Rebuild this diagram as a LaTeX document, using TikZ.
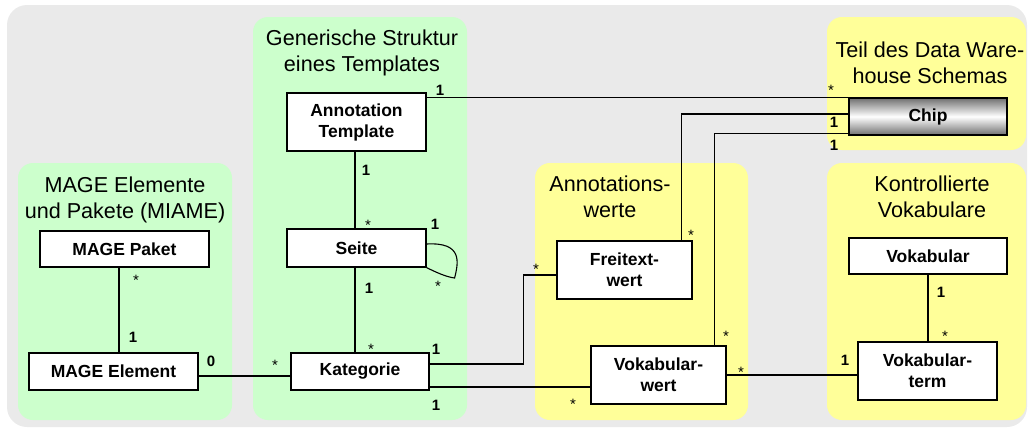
\documentclass[tikz,border=0pt]{standalone}
\usepackage{fontspec}
\setmainfont{Liberation Sans}
\usetikzlibrary{calc}

\definecolor{bggrey}{RGB}{234,234,234}
\definecolor{panelgreen}{RGB}{204,255,204}
\definecolor{panelyellow}{RGB}{255,255,153}
\definecolor{chipgrey}{RGB}{112,112,112}

\begin{document}
\begin{tikzpicture}[x=1pt, y=-1pt,
    panel/.style={rounded corners=15pt},
    ptitle/.style={font=\fontsize{21.6}{25.5}\selectfont, align=center, inner sep=0pt, anchor=north},
    class/.style={draw, fill=white, line width=1.2pt, inner sep=0pt, align=center,
        font=\bfseries\fontsize{17.5}{21}\selectfont},
    assoc/.style={line width=1.1pt},
    mult/.style={font=\bfseries\fontsize{15}{15}\selectfont, inner sep=0pt, anchor=base},
    many/.style={font=\fontsize{15}{15}\selectfont, inner sep=0pt, anchor=base}]
    \useasboundingbox (0, 0) rectangle (1029, 429);
    \fill[bggrey, rounded corners=20pt] (7, 5) rectangle (1027, 427);

    % panels
    \fill[panelgreen, panel] (18, 163) rectangle (232, 420);
    \fill[panelgreen, panel] (253, 17) rectangle (467, 420);
    \fill[panelyellow, panel] (827, 17) rectangle (1026, 150);
    \fill[panelyellow, panel] (535, 163) rectangle (748, 420);
    \fill[panelyellow, panel] (827, 163) rectangle (1026, 420);

    \node[ptitle] (tmage) at (125, 177) {MAGE Elemente\\und Pakete (MIAME)};
    \node[ptitle] (tgen) at (362, 30) {Generische Struktur\\eines Templates};
    \node[ptitle] (tdwh) at (930, 42) {Teil des Data Ware-\\house Schemas};
    \node[ptitle] (tannot) at (610, 176) {Annotations-\\werte};
    \node[ptitle] (tvoc) at (932, 176) {Kontrollierte\\Vokabulare};

    % classes
    \node[class, minimum width=139, minimum height=58] (template) at (356.5, 122) {Annotation\\Template};
    \node[class, minimum width=139, minimum height=38] (seite) at (356.5, 248) {Seite};
    \node[class, minimum width=138, minimum height=37] (kategorie) at (360, 371.5) {Kategorie};
    \node[class, minimum width=169, minimum height=36] (paket) at (124.5, 249) {MAGE Paket};
    \node[class, minimum width=169, minimum height=37] (element) at (113.5, 371.5) {MAGE Element};
    \node[class, minimum width=158, minimum height=37, top color=chipgrey, bottom color=chipgrey,
        middle color=white] (chip) at (928, 116.5) {Chip};
    \node[class, minimum width=135, minimum height=58] (freitext) at (624.5, 270) {Freitext-\\wert};
    \node[class, minimum width=135, minimum height=58] (vokwert) at (658.5, 375) {Vokabular-\\wert};
    \node[class, minimum width=158, minimum height=36] (vokabular) at (928, 256) {Vokabular};
    \node[class, minimum width=139, minimum height=58] (vokterm) at (927.5, 371) {Vokabular-\\term};

    % associations
    \draw[assoc] ([yshift=-5pt]template.north east) -- (chip.north west);
    \draw[assoc] ([xshift=-11pt]freitext.north east) |- ([yshift=2.5pt]chip.west);
    \draw[assoc] ([xshift=-12pt]vokwert.north east) |- ([yshift=2pt]chip.south west);
    \draw[assoc] ([xshift=-1.5pt]template.south) -- ([xshift=-1.5pt]seite.north);
    \draw[assoc] ([yshift=4pt]seite.east) .. controls +(36,-2) and +(4,-16) .. ++(28,34)
        .. controls +(-8,-1) and +(10,5) .. (seite.south east);
    \draw[assoc] ([xshift=-1.5pt]seite.south) -- ([xshift=-1.5pt]seite.south |- kategorie.north);
    \draw[assoc] ([xshift=-5.5pt]paket.south) -- ([xshift=-5.5pt]paket.south |- element.north);
    \draw[assoc] ([yshift=-4.5pt]element.east) -- ([yshift=-4.5pt]kategorie.west);
    \draw[assoc] ([yshift=7.5pt]kategorie.east) -- ++(94, 0) |- ([yshift=-5pt]freitext.west);
    \draw[assoc] ([yshift=-15.5pt]kategorie.east) coordinate (kv) -- (kv -| vokwert.west);
    \draw[assoc] (vokwert.east) -- (vokwert.east -| vokterm.west);
    \draw[assoc] (vokabular.south) -- (vokabular.south |- vokterm.north);

    % multiplicities
    \node[mult] (m1) at (440, 95.5) {1};
    \node[many] (m2) at (831, 95.5) {*};
    \node[many] (m3) at (691, 240.5) {*};
    \node[mult] (m4) at (834, 127.5) {1};
    \node[many] (m5) at (726, 341.5) {*};
    \node[mult] (m6) at (834, 150.5) {1};
    \node[mult] (m7) at (366, 175.5) {1};
    \node[many] (m8) at (368, 230.5) {*};
    \node[mult] (m9) at (435, 229.5) {1};
    \node[many] (m10) at (438, 291.5) {*};
    \node[mult] (m11) at (369, 293.5) {1};
    \node[many] (m12) at (371, 354.5) {*};
    \node[many] (m13) at (136, 285.5) {*};
    \node[mult] (m14) at (133, 342.5) {1};
    \node[mult] (m15) at (211, 366.5) {0};
    \node[many] (m16) at (275, 370.5) {*};
    \node[mult] (m17) at (436, 354.5) {1};
    \node[many] (m18) at (536, 274.5) {*};
    \node[mult] (m19) at (436, 410.5) {1};
    \node[many] (m20) at (573, 409.5) {*};
    \node[many] (m21) at (741, 377.5) {*};
    \node[mult] (m22) at (845, 365.5) {1};
    \node[mult] (m23) at (941, 297.5) {1};
    \node[many] (m24) at (945, 341.5) {*};
\end{tikzpicture}
\end{document}
